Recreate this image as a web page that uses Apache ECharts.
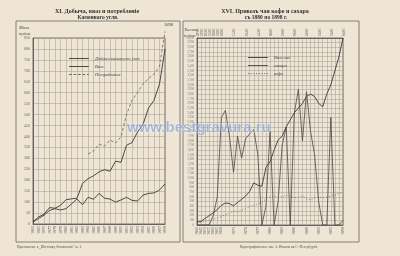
<!DOCTYPE html>
<html><head><meta charset="utf-8">
<script src="https://cdn.jsdelivr.net/npm/echarts@6/dist/echarts.min.js"></script>
<style>html,body{margin:0;padding:0;background:#eee5d4;}#c{width:400px;height:256px;}</style>
</head><body><div id="c"></div>
<script>
// ---- Left panel: coal (million poods) ----
const leftYears = ['1860','1865','1870','1877','1878','1879','1880','1881','1882','1883','1884','1885','1886','1887','1888','1889','1890','1891','1892','1893','1894','1895','1896','1897','1898'];
const coalProduction = [9,32,45,75,72,85,111,115,118,185,207,220,238,248,241,287,282,360,372,420,455,530,565,640,800];
const coalImport = [9,25,40,62,70,64,70,92,114,88,122,113,140,118,114,100,110,122,108,105,132,140,142,155,183];
const coalConsumption = [null,null,null,null,null,null,null,null,null,null,320,333,365,356,384,370,398,500,565,600,640,665,685,720,880];
const leftNames = ['Добыча каменного угля','Ввоз','Потребление'];

// ---- Right panel: tea, sugar, coffee (thousand poods) ----
const rightYears = ['1840','1845','1850','1855','1860','1865','1868','1869','1870','1871','1872','1873','1874','1875','1876','1877','1878','1879','1880','1881','1882','1883','1884','1885','1886','1887','1888','1889','1890','1891','1892','1893','1894','1895','1896','1897','1898'];
const teaImport = [60,80,140,200,260,330,420,470,460,410,480,550,620,720,900,850,830,1230,1350,1600,1820,1900,2100,2250,2400,2500,2600,2750,2800,2750,2600,2530,2800,3000,3300,3600,4000];
const sugarImport = [0,0,0,0,200,600,2300,2450,1900,1130,1900,1430,1850,1950,2050,1500,0,400,2000,0,500,1700,2100,0,2400,2900,1800,2850,2000,1500,500,0,0,2300,0,0,100];
const coffeeImport = [40,60,80,100,130,150,180,220,250,300,280,320,350,400,420,450,480,560,600,620,610,600,640,620,580,600,620,560,540,580,600,580,600,620,640,680,700];
const rightNames = ['Ввоз чая','сахара','кофе'];

const F = 'Liberation Serif';
const ink = '#3b3835';
const gridC = '#a19b91';

const ICON_SOLID = 'path://M0,0h22v1h-22z';
const ICON_DASH = 'path://M0,0h3v1h-3zM5,0h3v1h-3zM10,0h3v1h-3zM15,0h3v1h-3zM20,0h2v1h-2z';
const ICON_DOT = 'path://M0,0h1v1h-1zM3,0h1v1h-1zM6,0h1v1h-1zM9,0h1v1h-1zM12,0h1v1h-1zM15,0h1v1h-1zM18,0h1v1h-1zM21,0h1v1h-1z';

function axisX(grid, data, pos, labelFn){
  return {gridIndex:grid, type:'category', data:data, boundaryGap:false, position:pos,
    axisLine:{show:true,lineStyle:{color:'#555',width:0.8}}, axisTick:{show:false},
    splitLine:{show:pos==='bottom',interval:0,lineStyle:{color:gridC,width:0.5}},
    axisLabel:{interval:labelFn||0, rotate:90, fontSize:4, color:'#666', margin:2, fontFamily:F}};
}
const rIdx = (i)=> i<6 || (i-6)%3===0;
const legendCommon = {orient:'vertical', itemWidth:22, itemHeight:0.9, itemGap:3, selectedMode:false,
  textStyle:{fontSize:4.5, color:'#444', fontFamily:F, fontStyle:'italic'}};

const option = {
  backgroundColor:'#eee5d4',
  animation:false,
  grid:[
    {left:33, top:38, width:132, height:186, show:true, borderColor:'#555', borderWidth:0.8},
    {left:197, top:38, width:146, height:187, show:true, borderColor:'#555', borderWidth:0.8}
  ],
  legend:[
    Object.assign({left:64, top:51, data:[
      {name:leftNames[0], icon:ICON_SOLID},
      {name:leftNames[1], icon:ICON_SOLID},
      {name:leftNames[2], icon:ICON_DASH}]}, legendCommon),
    Object.assign({left:243, top:50, data:[
      {name:rightNames[0], icon:ICON_SOLID},
      {name:rightNames[1], icon:ICON_SOLID},
      {name:rightNames[2], icon:ICON_DOT}]}, legendCommon)
  ],
  xAxis:[
    axisX(0, leftYears, 'bottom'),
    axisX(1, rightYears, 'bottom', (i)=>rIdx(i)),
    axisX(1, rightYears, 'top', (i)=>rIdx(i))
  ],
  yAxis:[
    {gridIndex:0, type:'value', min:0, max:850, interval:50,
     axisLine:{show:true,lineStyle:{color:'#555',width:0.8}}, axisTick:{show:false},
     splitLine:{lineStyle:{color:gridC,width:0.5}},
     axisLabel:{fontSize:4, color:'#666', margin:3, fontFamily:F}},
    {gridIndex:1, type:'value', min:0, max:4000, interval:100,
     axisLine:{show:true,lineStyle:{color:'#555',width:0.8}}, axisTick:{show:false},
     splitLine:{lineStyle:{color:gridC,width:0.5}},
     axisLabel:{fontSize:3, color:'#777', margin:3, fontFamily:F}}
  ],
  series:[
    {name:leftNames[0], type:'line', xAxisIndex:0, yAxisIndex:0, data:coalProduction, symbol:'none',
     lineStyle:{color:ink,width:0.9}, itemStyle:{color:ink}},
    {name:leftNames[1], type:'line', xAxisIndex:0, yAxisIndex:0, data:coalImport, symbol:'none',
     lineStyle:{color:ink,width:0.9}, itemStyle:{color:ink}},
    {name:leftNames[2], type:'line', xAxisIndex:0, yAxisIndex:0, data:coalConsumption, symbol:'none', clip:false,
     lineStyle:{color:'#6a6560',width:0.8,type:[3,2]}, itemStyle:{color:'#6a6560'}},
    {name:rightNames[0], type:'line', xAxisIndex:1, yAxisIndex:1, data:teaImport, symbol:'none',
     lineStyle:{color:ink,width:0.9}, itemStyle:{color:ink}},
    {name:rightNames[1], type:'line', xAxisIndex:1, yAxisIndex:1, data:sugarImport, symbol:'none',
     lineStyle:{color:'#4a4643',width:0.8}, itemStyle:{color:'#4a4643'}},
    {name:rightNames[2], type:'line', xAxisIndex:1, yAxisIndex:1, data:coffeeImport, symbol:'none',
     lineStyle:{color:'#6a6560',width:0.8,type:[1,2]}, itemStyle:{color:'#6a6560'}}
  ],
  graphic:[
    {type:'rect', shape:{x:16,y:21,width:164,height:221}, style:{fill:null,stroke:'#666',lineWidth:0.8}, silent:true},
    {type:'rect', shape:{x:183,y:21,width:176,height:221}, style:{fill:null,stroke:'#666',lineWidth:0.8}, silent:true},
    {type:'text', x:97, y:8, style:{text:'XI. Добыча, ввоз и потребленіе', font:'bold 6px '+F, fill:'#333', textAlign:'center'}},
    {type:'text', x:98, y:15, style:{text:'Каменнаго угля.', font:'bold 5.5px '+F, fill:'#333', textAlign:'center'}},
    {type:'text', x:265, y:8, style:{text:'XVI. Привозъ чая кофе и сахара', font:'bold 6px '+F, fill:'#333', textAlign:'center'}},
    {type:'text', x:266, y:15, style:{text:'съ 1880 по 1898 г.', font:'bold 5.5px '+F, fill:'#333', textAlign:'center'}},
    {type:'text', x:19, y:25, style:{text:'Милл.\nпудов.', font:'italic 4.5px '+F, fill:'#444', lineHeight:6}},
    {type:'text', x:184, y:27, style:{text:'Тысячи\nпудов.', font:'italic 4.5px '+F, fill:'#444', lineHeight:6}},
    {type:'text', x:164, y:22, style:{text:'1898', font:'italic 4.5px '+F, fill:'#444'}},
    {type:'text', x:17, y:245, style:{text:'Приложение к „Вѣстнику Финансовъ" № 1.', font:'3.5px '+F, fill:'#555'}},
    {type:'text', x:240, y:245, style:{text:'Картографическое зав. А. Ильина въ С.-Петербургѣ.', font:'3.5px '+F, fill:'#555'}},
    {type:'text', x:127, y:120, z:100, style:{text:'www.bestgravura.ru', font:'bold 15px Liberation Sans', fill:'rgba(110,145,215,0.55)', stroke:'rgba(255,255,255,0.5)', lineWidth:0.8}}
  ]
};
const chart = echarts.init(document.getElementById('c'), null, {renderer:'canvas'});
chart.setOption(option);
</script>
</body></html>
